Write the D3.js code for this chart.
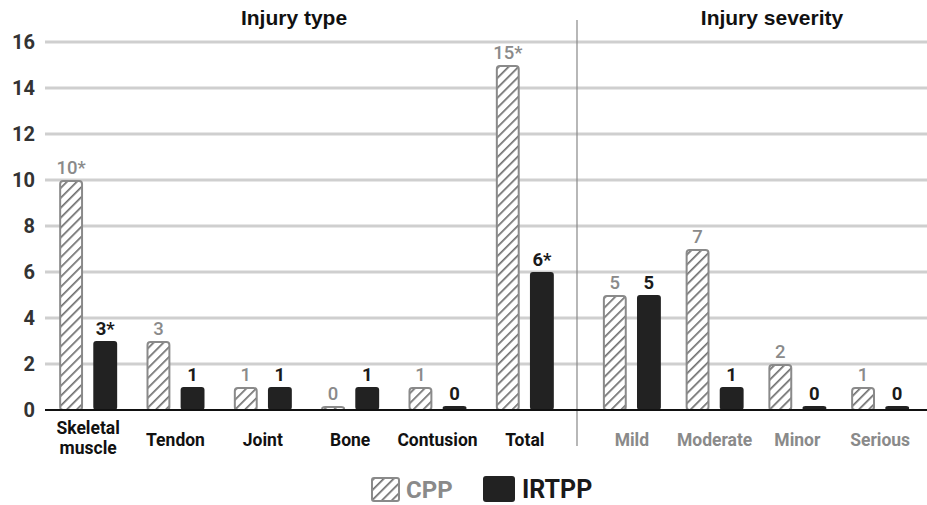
<!DOCTYPE html>
<html><head><meta charset="utf-8">
<script src="https://cdn.jsdelivr.net/npm/d3@7"></script>
<style>body{margin:0;background:#fff}svg{display:block}</style>
</head><body>
<svg id="c" width="927" height="505"></svg>
<script>
const typeCategories = ["Skeletal muscle","Tendon","Joint","Bone","Contusion","Total"];
const typeCPP   = [10, 3, 1, 0, 1, 15];
const typeIRTPP = [3, 1, 1, 1, 0, 6];
const typeCPPLabels   = ["10*","3","1","0","1","15*"];
const typeIRTPPLabels = ["3*","1","1","1","0","6*"];

const sevCategories = ["Mild","Moderate","Minor","Serious"];
const sevCPP   = [5, 7, 2, 1];
const sevIRTPP = [5, 1, 0, 0];
const sevCPPLabels   = ["5","7","2","1"];
const sevIRTPPLabels = ["5","1","0","0"];

const series = ["CPP","IRTPP"];
const yTicks = [0,2,4,6,8,10,12,14,16];

const svg = d3.select("#c");
const FONT = "Roboto, 'Liberation Sans', Arial, sans-serif";
const y = d3.scaleLinear().domain([0,16]).range([410,42]);

const defs = svg.append("defs");
const pat = defs.append("pattern").attr("id","hatch").attr("patternUnits","userSpaceOnUse")
  .attr("width",7).attr("height",7).attr("patternTransform","rotate(45)");
pat.append("rect").attr("width",7).attr("height",7).attr("fill","#fff");
pat.append("line").attr("x1",0).attr("y1",0).attr("x2",0).attr("y2",7)
  .attr("stroke","#707070").attr("stroke-width",3.4);

// gridlines + y axis
const yAxis = d3.axisLeft(y).tickValues(yTicks).tickSize(0).tickPadding(10);
const ga = svg.append("g").attr("transform","translate(45,0)").call(yAxis);
ga.select(".domain").remove();
ga.selectAll("text").attr("font-family",FONT).attr("font-weight","bold")
  .attr("font-size",20).attr("fill","#333");
svg.append("g").selectAll("line").data(yTicks.filter(d=>d>0)).join("line")
  .attr("x1",45).attr("x2",927).attr("y1",d=>y(d)).attr("y2",d=>y(d))
  .attr("stroke","#cfcfcf").attr("stroke-width",2.8);

// divider
svg.append("line").attr("x1",577).attr("x2",577).attr("y1",20).attr("y2",446)
  .attr("stroke","#888").attr("stroke-width",1.2);

function panel(cats, cpp, irt, cppL, irtL, range, catColor, catWeight){
  const x0 = d3.scaleBand().domain(cats).range(range);
  const x1 = d3.scaleBand().domain(series).range([-29,29]).paddingInner(0.3);
  const g = svg.append("g");
  cats.forEach((c,i)=>{
    const cx = x0(c) + x0.bandwidth()/2;
    const vals = [cpp[i], irt[i]];
    const labs = [cppL[i], irtL[i]];
    series.forEach((s,j)=>{
      const v = vals[j];
      const top = Math.min(y(v), y(0)-4);
      const bx = cx + x1(s);
      const bw = x1.bandwidth();
      if(s==="CPP"){
        g.append("rect").attr("x",bx+1).attr("y",top+1).attr("width",bw-2)
          .attr("height",y(0)-top-1).attr("rx",3)
          .attr("fill","url(#hatch)").attr("stroke","#8a8a8a").attr("stroke-width",2);
      } else {
        g.append("rect").attr("x",bx).attr("y",top).attr("width",bw)
          .attr("height",y(0)-top).attr("rx",3).attr("fill","#222");
      }
      g.append("text").attr("x",bx+bw/2).attr("y",top-6).attr("text-anchor","middle")
        .attr("font-family",FONT).attr("font-size",18.5)
        .attr("font-weight", s==="CPP" ? 500 : "bold")
        .attr("fill", s==="CPP" ? "#8a8a8a" : "#1a1a1a").text(labs[j]);
    });
    const words = c.split(" ");
    const t = g.append("text").attr("text-anchor","middle").attr("font-family",FONT)
      .attr("font-size",17.5).attr("font-weight",catWeight).attr("fill",catColor);
    if(words.length>1){
      words.forEach((w,k)=>t.append("tspan").attr("x",cx).attr("y",434+k*20).text(w));
    } else {
      t.attr("x",cx).attr("y",446).text(c);
    }
  });
  return x0;
}
panel(typeCategories, typeCPP, typeIRTPP, typeCPPLabels, typeIRTPPLabels, [44.5,568.5], "#111", "bold");
panel(sevCategories, sevCPP, sevIRTPP, sevCPPLabels, sevIRTPPLabels, [590.5,921.5], "#8a8a8a", "bold");

// baseline
svg.append("line").attr("x1",45).attr("x2",927).attr("y1",y(0)).attr("y2",y(0))
  .attr("stroke","#111").attr("stroke-width",2);

// titles
svg.append("text").attr("x",294).attr("y",25).attr("text-anchor","middle")
  .attr("font-family","'Liberation Sans', Arial, sans-serif").attr("font-weight","bold")
  .attr("font-size",21).attr("fill","#111").text("Injury type");
svg.append("text").attr("x",772).attr("y",25).attr("text-anchor","middle")
  .attr("font-family","'Liberation Sans', Arial, sans-serif").attr("font-weight","bold")
  .attr("font-size",21).attr("fill","#111").text("Injury severity");

// legend
const lg = svg.append("g");
lg.append("rect").attr("x",372).attr("y",478).attr("width",27).attr("height",23).attr("rx",2)
  .attr("fill","url(#hatch)").attr("stroke","#8a8a8a").attr("stroke-width",2);
lg.append("text").attr("x",406).attr("y",498).attr("font-family",FONT).attr("font-weight","bold")
  .attr("font-size",24).attr("fill","#8a8a8a").text(series[0]);
lg.append("rect").attr("x",483).attr("y",476).attr("width",32).attr("height",26).attr("rx",3)
  .attr("fill","#222");
lg.append("text").attr("x",522).attr("y",498).attr("font-family",FONT).attr("font-weight","bold")
  .attr("font-size",25).attr("fill","#1a1a1a").text(series[1]);
</script>
</body></html>
